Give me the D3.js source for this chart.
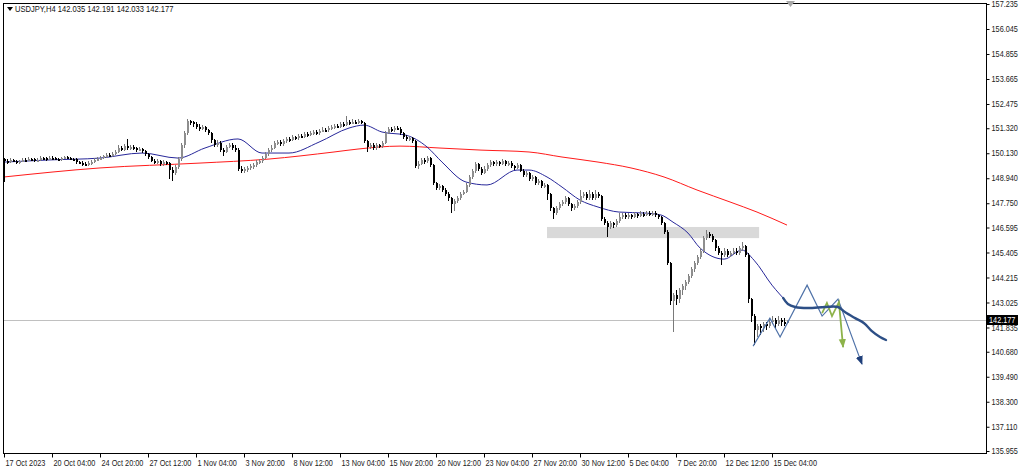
<!DOCTYPE html>
<html><head><meta charset="utf-8">
<script src="https://cdn.jsdelivr.net/npm/d3@7"></script>
<style>
body{margin:0;background:#fff}
svg{display:block}
text{font-family:"Liberation Sans",Arial,sans-serif}
</style>
</head><body>
<svg id="chart" width="1022" height="470"></svg>
<script>
// ---------- data ----------
const symbolTitle = "USDJPY,H4";
const lastOHLC = [142.035, 142.191, 142.033, 142.177];
const firstOpen = 149.85;

const closes = [
149.78,149.72,149.80,149.76,149.70,149.74,149.82,149.78,149.86,149.84,
149.78,149.82,149.90,149.88,149.84,149.92,149.90,149.86,149.82,149.88,
149.94,149.90,149.86,149.84,149.70,149.68,149.64,149.60,149.66,149.70,
149.80,149.86,149.92,149.98,150.04,150.02,150.10,150.18,150.40,150.30,
150.46,150.38,150.44,150.36,150.30,150.34,150.22,150.10,149.96,149.78,
149.70,149.74,149.62,149.70,149.66,149.34,149.20,149.46,149.84,150.50,
151.10,151.66,151.60,151.52,151.40,151.30,151.36,151.22,151.10,150.74,
150.54,150.64,150.30,150.20,150.44,150.52,150.40,150.30,149.40,149.30,
149.36,149.42,149.50,149.56,149.70,149.74,149.90,150.10,150.28,150.40,
150.60,150.66,150.56,150.70,150.80,150.78,150.88,150.84,150.96,150.92,
151.04,151.00,151.10,151.14,151.08,151.20,151.26,151.22,151.32,151.38,
151.44,151.40,151.52,151.48,151.62,151.56,151.64,151.60,151.66,151.58,
150.70,150.42,150.54,150.38,150.50,150.46,150.62,151.10,151.30,151.24,
151.34,151.30,151.10,150.90,150.80,150.86,150.70,149.50,149.64,149.80,
149.74,149.90,149.56,148.70,148.46,148.56,148.40,148.20,148.00,147.70,
147.86,148.00,148.20,148.30,148.60,149.00,149.30,149.60,149.40,149.20,
149.40,149.56,149.70,149.60,149.70,149.62,149.74,149.60,149.68,149.50,
149.44,149.56,149.30,149.10,149.20,148.90,149.00,148.70,148.80,148.56,
148.62,148.20,147.50,147.30,147.50,147.70,147.80,148.00,147.70,147.50,
147.60,147.80,148.10,148.20,148.00,148.20,148.00,148.20,148.10,147.00,
146.80,146.60,146.80,146.70,146.90,147.10,147.20,147.10,147.20,147.10,
147.24,147.16,147.26,147.20,147.30,147.22,147.30,147.20,147.10,146.80,
146.40,144.90,143.10,143.40,143.20,143.60,143.80,144.00,144.30,144.60,
144.90,145.20,145.50,146.10,146.30,146.20,146.00,145.60,145.40,145.30,
145.50,145.30,145.40,145.50,145.40,145.60,145.70,145.30,143.20,142.40,
141.70,141.90,141.80,142.00,141.90,142.10,142.20,142.00,142.20,142.10,
142.035,142.177
];
const highs = [
149.92,149.86,149.88,149.86,149.82,149.82,149.90,149.88,149.94,149.92,
149.90,149.90,149.98,149.96,149.94,150.00,149.98,149.96,149.92,149.96,
150.02,150.00,149.96,149.92,149.90,149.78,149.74,149.72,149.74,149.80,
149.88,149.94,150.02,150.06,150.12,150.14,150.20,150.28,150.50,150.48,
150.56,150.80,150.54,150.52,150.44,150.44,150.40,150.28,150.16,150.02,
149.86,149.84,149.80,149.80,149.78,149.72,149.46,149.56,149.94,150.60,
151.20,151.74,151.72,151.68,151.60,151.50,151.46,151.42,151.30,151.16,
150.82,150.74,150.70,150.40,150.54,150.62,150.60,150.50,150.36,149.50,
149.46,149.52,149.60,149.66,149.80,149.84,150.00,150.20,150.38,150.50,
150.70,150.76,150.74,150.80,150.90,150.90,150.98,150.96,151.06,151.04,
151.14,151.12,151.20,151.24,151.22,151.30,151.36,151.34,151.42,151.48,
151.54,151.52,151.62,151.60,151.92,151.70,151.74,151.72,151.76,151.72,
151.62,150.76,150.64,150.60,150.60,150.58,150.72,151.20,151.40,151.38,
151.44,151.42,151.36,151.16,150.98,150.96,150.92,150.76,149.74,149.90,
149.88,150.00,149.96,149.60,148.78,148.66,148.64,148.48,148.28,148.06,
147.96,148.10,148.30,148.40,148.70,149.10,149.40,149.70,149.68,149.48,
149.50,149.66,149.80,149.78,149.80,149.78,149.84,149.80,149.78,149.74,
149.58,149.66,149.62,149.38,149.30,149.26,149.10,149.06,148.90,148.86,
148.72,148.66,148.26,147.58,147.60,147.80,147.90,148.10,148.06,147.76,
147.70,147.90,148.40,148.30,148.28,148.36,148.30,148.40,148.30,148.16,
147.10,146.90,146.90,146.88,147.00,147.30,147.30,147.28,147.30,147.26,
147.34,147.30,147.36,147.32,147.40,147.36,147.40,147.36,147.26,147.14,
146.86,146.46,144.96,143.50,143.60,143.70,143.90,144.10,144.40,144.70,
145.00,145.30,145.60,146.20,146.48,146.40,146.30,146.06,145.70,145.50,
145.60,145.56,145.50,145.60,145.60,145.70,145.90,145.76,145.36,143.26,
142.50,142.00,142.00,142.10,142.10,142.30,142.40,142.30,142.40,142.30,
142.30,142.191
];
const lows = [
148.76,149.64,149.66,149.70,149.62,149.64,149.70,149.72,149.74,149.78,
149.72,149.74,149.78,149.82,149.78,149.80,149.84,149.80,149.74,149.78,
149.84,149.84,149.80,149.76,149.62,149.60,149.54,149.50,149.52,149.58,
149.66,149.74,149.80,149.86,149.92,149.94,149.96,150.04,150.12,150.22,
150.24,150.30,150.30,150.28,150.20,150.22,150.14,150.00,149.86,149.70,
149.60,149.62,149.52,149.54,149.56,148.90,148.80,149.10,149.40,149.78,
150.40,151.00,151.48,151.40,151.30,151.20,151.22,151.12,150.98,150.64,
150.44,150.44,150.20,150.00,150.12,150.36,150.30,150.20,149.30,149.18,
149.20,149.26,149.34,149.40,149.46,149.60,149.66,149.84,150.02,150.20,
150.32,150.52,150.46,150.48,150.62,150.68,150.70,150.76,150.78,150.84,
150.86,150.92,150.94,151.02,151.00,151.02,151.12,151.14,151.16,151.24,
151.30,151.32,151.34,151.40,151.42,151.46,151.50,151.52,151.54,151.50,
150.60,150.20,150.32,150.28,150.30,150.36,150.40,150.56,151.04,151.14,
151.16,151.22,151.00,150.80,150.70,150.72,150.60,149.42,149.40,149.56,
149.64,149.66,149.46,148.60,148.36,148.38,148.30,148.08,147.88,147.28,
147.40,147.76,147.92,148.12,148.24,148.52,148.90,149.20,149.30,149.10,
149.12,149.30,149.48,149.50,149.52,149.54,149.56,149.52,149.52,149.42,
149.34,149.36,149.22,149.00,149.02,148.80,148.82,148.60,148.62,148.46,
148.48,147.90,147.40,147.00,147.20,147.42,147.62,147.70,147.60,147.40,
147.42,147.52,147.72,148.00,147.90,147.92,147.90,147.92,148.00,146.90,
146.70,146.14,146.50,146.56,146.60,146.82,147.00,147.00,147.02,147.00,
147.04,147.06,147.08,147.10,147.12,147.12,147.14,147.10,147.00,146.70,
146.30,144.80,142.90,141.62,142.90,143.00,143.40,143.60,143.90,144.20,
144.50,144.80,145.10,145.40,146.00,146.10,145.90,145.50,145.30,144.80,
145.20,145.20,145.20,145.30,145.30,145.30,145.50,145.20,143.00,142.10,
141.00,141.40,141.50,141.60,141.70,141.80,142.00,141.80,141.90,141.90,
141.90,142.033
];

const priceTicks = [157.235,156.045,154.855,153.665,152.475,151.320,150.130,148.940,147.750,146.595,145.405,144.215,143.025,141.835,140.680,139.490,138.300,137.110,135.955];
const timeLabels = ["17 Oct 2023","20 Oct 04:00","24 Oct 20:00","27 Oct 12:00","1 Nov 04:00","3 Nov 20:00","8 Nov 12:00","13 Nov 04:00","15 Nov 20:00","20 Nov 12:00","23 Nov 04:00","27 Nov 20:00","30 Nov 12:00","5 Dec 04:00","7 Dec 20:00","12 Dec 12:00","15 Dec 04:00"];
const timeLabelBars = [0,16,32,48,64,80,96,112,128,144,160,176,192,208,224,240,256];

// moving averages: [bar index, price]
const fastMA = [[0,149.71],[15,149.81],[32,149.90],[46,150.14],[58,149.90],[67,150.38],[78,150.81],[86,150.14],[95,150.14],[105,150.66],[115,151.33],[120,151.47],[126,151.14],[134,150.99],[141,150.43],[146,149.71],[154,148.76],[161,148.62],[171,149.33],[175,149.33],[181,149.00],[186,148.52],[192,147.90],[198,147.57],[205,147.33],[214,147.28],[219,147.19],[223,146.85],[228,146.33],[232,145.62],[240,145.09],[246,145.52],[250,145.04],[256,143.85],[261,143.04]];
const slowMA = [[0,149.00],[32,149.43],[65,149.66],[88,149.85],[110,150.19],[118,150.33],[132,150.47],[145,150.38],[159,150.28],[175,150.19],[186,149.95],[198,149.71],[209,149.43],[220,149.00],[231,148.38],[242,147.81],[251,147.33],[261,146.71]];

// drawn objects
const zoneBars = [181, 251.7];
const zonePrices = [146.62, 146.09];
const pathThin = [[249.7,140.95],[255.3,142.28],[258.7,141.38],[267.7,143.85],[272.7,142.38],[278,143.19],[286,140.09]];
const pathGreen = [[272.7,142.52],[274.3,143.00],[276,142.38],[278.3,143.04],[279.7,140.90]];
const pathThick = [[259.7,143.24],[261.3,142.95],[263.7,142.81],[268,142.76],[273.7,142.81],[278,142.81],[280.3,142.57],[283.7,142.28],[286.7,142.04],[289.3,141.66],[292,141.38],[294,141.24]];

// ---------- drawing ----------
const svg = d3.select("#chart");
const W = 1022, H = 470;
const plot = {left: 3, top: 3, right: 986, bottom: 453};

const x = d3.scaleLinear().domain([0, closes.length - 1]).range([4, 4 + 3 * (closes.length - 1)]);
const y = d3.scaleLinear().domain([135.955, 157.235]).range([451, 4]);

const defs = svg.append("defs");
defs.append("clipPath").attr("id", "clip").append("rect")
  .attr("x", plot.left).attr("y", plot.top).attr("width", plot.right - plot.left).attr("height", plot.bottom - plot.top);
function marker(id, color) {
  defs.append("marker").attr("id", id).attr("viewBox", "0 0 10 10")
    .attr("refX", 9).attr("refY", 5).attr("markerUnits", "userSpaceOnUse")
    .attr("markerWidth", 9).attr("markerHeight", 9).attr("orient", "auto")
    .append("path").attr("d", "M0,1 L10,5 L0,9 Z").attr("fill", color);
}
marker("arrBlue", "#1f3f7a");
marker("arrGreen", "#8db34a");

svg.append("rect").attr("width", W).attr("height", H).attr("fill", "#fff");

const g = svg.append("g").attr("clip-path", "url(#clip)");

// zone rectangle
g.append("rect")
  .attr("x", x(zoneBars[0])).attr("width", x(zoneBars[1]) - x(zoneBars[0]))
  .attr("y", y(zonePrices[0])).attr("height", y(zonePrices[1]) - y(zonePrices[0]))
  .attr("fill", "#d9d9d9");

// current price line
g.append("line").attr("x1", plot.left).attr("x2", plot.right)
  .attr("y1", Math.round(y(lastOHLC[3])) + 0.5).attr("y2", Math.round(y(lastOHLC[3])) + 0.5)
  .attr("stroke", "#c0c0c0").attr("stroke-width", 1);

// moving averages
const maLine = d3.line().x(d => x(d[0])).y(d => y(d[1])).curve(d3.curveMonotoneX);
g.append("path").attr("d", maLine(slowMA)).attr("fill", "none").attr("stroke", "#ff1a1a").attr("stroke-width", 1);
g.append("path").attr("d", maLine(fastMA)).attr("fill", "none").attr("stroke", "#28289a").attr("stroke-width", 1);

// candles
const opens = closes.map((c, i) => i === 0 ? firstOpen : closes[i - 1]);
const bars = g.append("g").attr("shape-rendering", "crispEdges");
closes.forEach((c, i) => {
  const o = opens[i];
  const X = Math.round(x(i));
  const up = c >= o;
  const top = Math.round(y(Math.max(o, c)));
  const bot = Math.round(y(Math.min(o, c)));
  bars.append("rect").attr("x", X).attr("width", 1)
    .attr("y", Math.round(y(highs[i]))).attr("height", Math.max(1, Math.round(y(lows[i])) - Math.round(y(highs[i]))))
    .attr("fill", up ? "#7a7a7a" : "#000");
  bars.append("rect").attr("x", X).attr("width", 2)
    .attr("y", top).attr("height", Math.max(2, bot - top))
    .attr("fill", up ? "#8e8e8e" : "#000");
});

// drawn projections
const straight = d3.line().x(d => x(d[0])).y(d => y(d[1]));
g.append("path").attr("d", straight(pathThin)).attr("fill", "none")
  .attr("stroke", "#4f72a8").attr("stroke-width", 1.2).attr("marker-end", "url(#arrBlue)");
g.append("path").attr("d", straight(pathGreen)).attr("fill", "none")
  .attr("stroke", "#8db34a").attr("stroke-width", 1.8).attr("marker-end", "url(#arrGreen)");
const smooth = d3.line().x(d => x(d[0])).y(d => y(d[1])).curve(d3.curveCatmullRom);
g.append("path").attr("d", smooth(pathThick)).attr("fill", "none")
  .attr("stroke", "#2d4f86").attr("stroke-width", 2.4).attr("stroke-linecap", "round");

// frame
svg.append("rect").attr("x", plot.left + 0.5).attr("y", plot.top + 0.5)
  .attr("width", plot.right - plot.left).attr("height", plot.bottom - plot.top)
  .attr("fill", "none").attr("stroke", "#000").attr("stroke-width", 1).attr("shape-rendering", "crispEdges");

// shift marker
svg.append("path").attr("d", `M${x(closes.length - 1) - 1},1 l9,0 l-4.5,6 Z`).attr("fill", "#a8a8a8");

function narrow(sel, f) {
  sel.each(function () {
    const w = this.getComputedTextLength();
    d3.select(this).attr("textLength", w * f).attr("lengthAdjust", "spacingAndGlyphs");
  });
}

// right axis
const yAxis = d3.axisRight(y).tickValues(priceTicks).tickFormat(d3.format(".3f")).tickSize(3).tickPadding(2);
const ya = svg.append("g").attr("transform", `translate(${plot.right + 0.5},0)`).call(yAxis);
ya.select(".domain").remove();
ya.selectAll(".tick line").attr("stroke", "#000");
ya.selectAll("text").attr("font-size", 8.5).attr("fill", "#222").attr("font-family", "Liberation Sans, Arial, sans-serif");
narrow(ya.selectAll("text"), 0.86);

// bottom axis
const xAxis = d3.axisBottom(x).tickValues(timeLabelBars).tickFormat((d, i) => timeLabels[i]).tickSize(4).tickPadding(2);
const xa = svg.append("g").attr("transform", `translate(0,${plot.bottom + 0.5})`).call(xAxis);
xa.select(".domain").remove();
xa.selectAll(".tick line").attr("stroke", "#000");
xa.selectAll("text").attr("font-size", 8.5).attr("fill", "#222").attr("text-anchor", "start")
  .attr("dx", 1).attr("y", 4).attr("dy", "0.95em").attr("font-family", "Liberation Sans, Arial, sans-serif");
narrow(xa.selectAll("text"), 0.86);

// current price label
const py = Math.round(y(lastOHLC[3]));
svg.append("rect").attr("x", plot.right + 1).attr("y", py - 5).attr("width", 31).attr("height", 10).attr("fill", "#000");
const pl = svg.append("text").attr("x", plot.right + 3).attr("y", py).attr("dy", "0.35em")
  .attr("font-size", 8.5).attr("fill", "#fff").text(d3.format(".3f")(lastOHLC[3]));
narrow(pl, 0.86);

// title
svg.append("path").attr("d", "M7,7 l6,0 l-3,4 Z").attr("fill", "#000");
const tt = svg.append("text").attr("x", 15).attr("y", 12).attr("font-size", 8.8).attr("fill", "#111")
  .text(symbolTitle + "  " + lastOHLC.map(d3.format(".3f")).join(" "));
narrow(tt, 0.86);
</script>
</body></html>
